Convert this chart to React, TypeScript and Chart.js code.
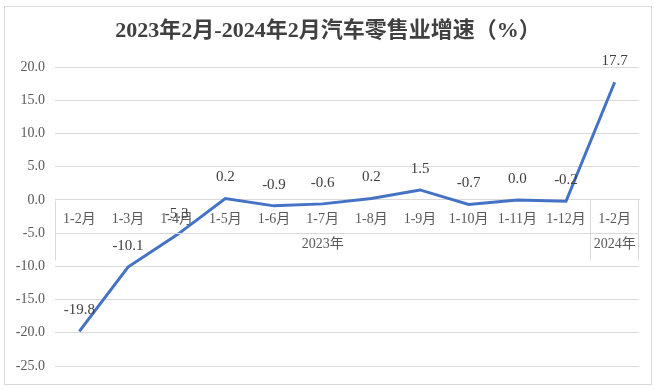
import React, { useEffect, useRef } from "react";
import { Chart, registerables } from "chart.js";

Chart.register(...registerables);

const titleText = "2023年2月-2024年2月汽车零售业增速（%）";
const monthLabels = ["1-2月", "1-3月", "1-4月", "1-5月", "1-6月", "1-7月", "1-8月", "1-9月", "1-10月", "1-11月", "1-12月", "1-2月"];
const yearGroups = [
  { label: "2023年", from: 0, to: 10 },
  { label: "2024年", from: 11, to: 11 },
];
const growthValues = [-19.8, -10.1, -5.3, 0.2, -0.9, -0.6, 0.2, 1.5, -0.7, 0.0, -0.2, 17.7];
const yMin = -25;
const yMax = 20;
const yStep = 5;

const FONT = '"Liberation Serif", "Times New Roman", "Noto Sans CJK SC", serif';

const decorPlugin = {
  id: "decor",
  beforeDraw(chart: any) {
    const ctx = chart.ctx;
    ctx.save();
    ctx.strokeStyle = "#d9d9d9";
    ctx.lineWidth = 1;
    ctx.strokeRect(4.5, 6.5, 647, 378);
    ctx.fillStyle = "#404040";
    ctx.font = `bold 22px ${FONT}`;
    ctx.textAlign = "center";
    ctx.textBaseline = "middle";
    ctx.fillText(titleText, 328, 31);
    ctx.restore();
  },
  afterDraw(chart: any) {
    const ctx = chart.ctx;
    const xs = chart.scales.x;
    const ys = chart.scales.y;
    const y0 = Math.round(ys.getPixelForValue(0)) + 0.5;
    const rowH = 33;
    ctx.save();
    ctx.strokeStyle = "#d9d9d9";
    ctx.lineWidth = 1;
    const left = Math.round(xs.left) + 0.5;
    const right = Math.round(xs.right) - 0.5;
    ctx.beginPath();
    ctx.moveTo(left, y0 + rowH);
    ctx.lineTo(right, y0 + rowH);
    ctx.stroke();
    const bounds: number[] = [left];
    yearGroups.forEach((g, i) => {
      if (i < yearGroups.length - 1) {
        const b = (xs.getPixelForTick(g.to) + xs.getPixelForTick(g.to + 1)) / 2;
        bounds.push(Math.round(b) + 0.5);
      }
    });
    bounds.push(right);
    bounds.forEach((b) => {
      ctx.beginPath();
      ctx.moveTo(b, y0);
      ctx.lineTo(b, y0 + 60);
      ctx.stroke();
    });
    ctx.fillStyle = "#595959";
    ctx.font = `14px ${FONT}`;
    ctx.textAlign = "center";
    ctx.textBaseline = "middle";
    yearGroups.forEach((g) => {
      const cx = (xs.getPixelForTick(g.from) + xs.getPixelForTick(g.to)) / 2;
      ctx.fillText(g.label, cx, y0 + 44);
    });
    const meta = chart.getDatasetMeta(0);
    ctx.fillStyle = "#404040";
    ctx.font = `15px ${FONT}`;
    meta.data.forEach((pt: any, i: number) => {
      ctx.fillText(growthValues[i].toFixed(1), pt.x, pt.y - 21);
    });
    ctx.restore();
  },
};

export default function App() {
  const ref = useRef<HTMLCanvasElement | null>(null);
  useEffect(() => {
    if (!ref.current) return;
    const chart = new Chart(ref.current, {
      type: "line",
      data: {
        labels: monthLabels,
        datasets: [
          {
            data: growthValues,
            borderColor: "#4472C4",
            borderWidth: 3,
            pointRadius: 0,
            tension: 0,
            fill: false,
          },
        ],
      },
      options: {
        animation: false,
        responsive: false,
        devicePixelRatio: 1,
        layout: { padding: { left: 0, top: 67, right: 19, bottom: 23 } },
        plugins: { legend: { display: false }, tooltip: { enabled: false }, title: { display: false } },
        scales: {
          x: {
            type: "category",
            offset: true,
            position: { y: 0 } as any,
            grid: { display: false, drawTicks: false, offset: true },
            border: { display: true, color: "#d9d9d9" },
            ticks: {
              color: "#595959",
              font: { family: FONT, size: 14 },
              padding: 11,
              maxRotation: 0,
              autoSkip: false,
            },
          },
          y: {
            min: yMin,
            max: yMax,
            afterFit(scale: any) {
              scale.width = 55;
            },
            grid: { color: "#d9d9d9", drawTicks: false },
            border: { display: false },
            ticks: {
              stepSize: yStep,
              color: "#595959",
              font: { family: FONT, size: 14 },
              padding: 10,
              callback: (v: any) => Number(v).toFixed(1),
            },
          },
        },
      },
      plugins: [decorPlugin],
    });
    return () => chart.destroy();
  }, []);
  return (
    <div style={{ position: "fixed", left: 0, top: 0, width: 658, height: 389, background: "#fff" }}>
      <canvas ref={ref} width={658} height={389} style={{ width: 658, height: 389 }} />
    </div>
  );
}
